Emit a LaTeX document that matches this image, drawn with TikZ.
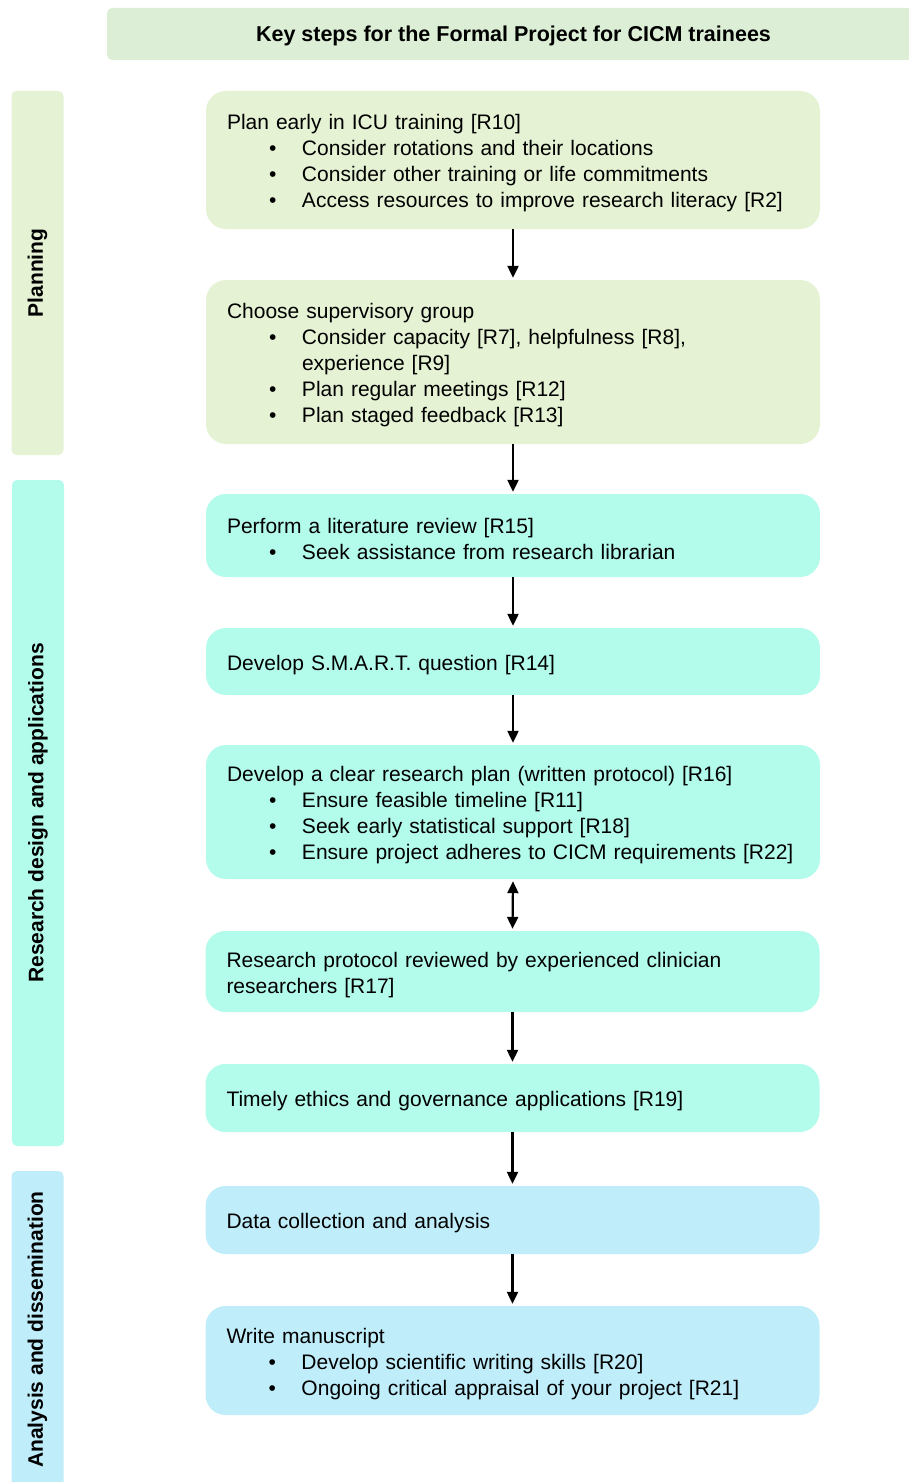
\documentclass[tikz,border=0pt]{standalone}
\usepackage{fontspec}
\setmainfont{Liberation Sans}
\usetikzlibrary{arrows.meta}
\definecolor{titlegreen}{HTML}{DCEFD6}
\definecolor{plangreen}{HTML}{E5F2D4}
\definecolor{mint}{HTML}{B3FBEB}
\definecolor{skyblue}{HTML}{C0EDFA}
\newcommand{\bodyfont}{\fontsize{21}{26}\selectfont}
\newcommand{\bitem}[1]{\\\hspace*{42pt}\makebox[33pt][l]{\textbullet}#1}
\newcommand{\bcont}[1]{\\\hspace*{75pt}#1}

\begin{document}
\begin{tikzpicture}[x=1pt,y=-1pt,
  stepbox/.style={rounded corners=20pt, minimum width=614, text width=572, inner xsep=21, align=left, font=\bodyfont, execute at begin node={\rule{0pt}{22pt}}},
  sidebar/.style={rounded corners=5pt, rotate=90, minimum height=52, font=\bodyfont\bfseries},
  flow/.style={line width=2.2pt, -{Triangle[length=12pt,width=11pt]}, shorten >=2pt},
  twoway/.style={line width=2.2pt, {Triangle[length=12pt,width=11pt]}-{Triangle[length=12pt,width=11pt]}, shorten >=2pt, shorten <=2pt}]
\useasboundingbox (0,0) rectangle (908,1482);

\node[fill=titlegreen, rounded corners=5pt, minimum width=813, minimum height=52, text depth=0pt, font=\fontsize{21.5}{25}\selectfont\bfseries] (title) at (513.5,34) {Key steps for the Formal Project for CICM trainees};

\node[sidebar, fill=plangreen, minimum width=364] (planning) at (37.5,273) {Planning};
\node[sidebar, fill=mint, minimum width=666] (design) at (38,813) {Research design and applications};
\node[sidebar, fill=skyblue, minimum width=317] (analysis) at (37.5,1329.5) {Analysis and dissemination};

\node[stepbox, fill=plangreen, minimum height=138] (early) at (513,160) {Plan early in ICU training [R10]\bitem{Consider rotations and their locations}\bitem{Consider other training or life commitments}\bitem{Access resources to improve research literacy [R2]}};
\node[stepbox, fill=plangreen, minimum height=164] (group) at (513,362) {Choose supervisory group\bitem{Consider capacity [R7], helpfulness [R8],}\bcont{experience [R9]}\bitem{Plan regular meetings [R12]}\bitem{Plan staged feedback [R13]}};
\node[stepbox, fill=mint, minimum height=83] (litreview) at (513,535.5) {Perform a literature review [R15]\bitem{Seek assistance from research librarian}};
\node[stepbox, fill=mint, minimum height=67] (question) at (513,661.5) {Develop S.M.A.R.T. question [R14]};
\node[stepbox, fill=mint, minimum height=134] (protocol) at (513,812) {Develop a clear research plan (written protocol) [R16]\bitem{Ensure feasible timeline [R11]}\bitem{Seek early statistical support [R18]}\bitem{Ensure project adheres to CICM requirements [R22]}};
\node[stepbox, fill=mint, minimum height=81] (peer) at (512.5,971.5) {Research protocol reviewed by experienced clinician\\researchers [R17]};
\node[stepbox, fill=mint, minimum height=68] (ethics) at (512.5,1098) {Timely ethics and governance applications [R19]};
\node[stepbox, fill=skyblue, minimum height=68] (data) at (512.5,1220) {Data collection and analysis};
\node[stepbox, fill=skyblue, minimum height=109] (manuscript) at (512.5,1360.5) {Write manuscript\bitem{Develop scientific writing skills [R20]}\bitem{Ongoing critical appraisal of your project [R21]}};

\foreach \a/\b in {early/group, group/litreview, litreview/question, question/protocol, peer/ethics, ethics/data, data/manuscript}
  \draw[flow] (\a.south) -- (\b.north);
\draw[twoway] (protocol.south) -- (peer.north);
\end{tikzpicture}
\end{document}
